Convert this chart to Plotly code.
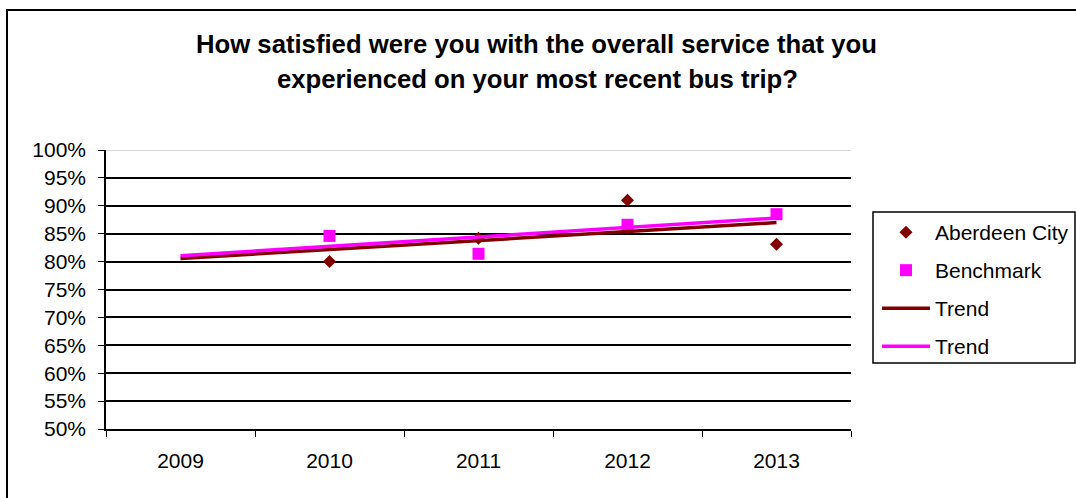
import numpy as np
import plotly.graph_objects as go

# Survey years and satisfaction scores (percent)
years = ["2009", "2010", "2011", "2012", "2013"]
aberdeen = [None, 80.0, 84.2, 91.0, 83.1]
benchmark = [None, 84.6, 81.4, 86.6, 88.5]

title_lines = [
    "How satisfied were you with the overall service that you",
    "experienced on your most recent bus trip?",
]

DARK_RED = "#800000"
MAGENTA = "#FF00FF"
FONT = "Liberation Sans, Arial, sans-serif"

W, H = 1076, 498
L, R, T, B = 106, 225, 150, 69
PW, PH = W - L - R, H - T - B


def px_x(p):
    return (p - L) / PW


def px_y(p):
    return (H - B - p) / PH


def linear_trend(values):
    """Least-squares line over the years that have data, evaluated on every year."""
    idx = np.arange(len(values))
    mask = np.array([v is not None for v in values])
    vals = np.array([v if v is not None else np.nan for v in values], dtype=float)
    slope, intercept = np.polyfit(idx[mask], vals[mask], 1)
    return list(slope * idx + intercept)


fig = go.Figure()

fig.add_trace(go.Scatter(
    x=years, y=aberdeen, mode="markers", name="Aberdeen City",
    legendgroup="a", marker=dict(symbol="diamond", size=10, color=DARK_RED),
))
fig.add_trace(go.Scatter(
    x=years, y=benchmark, mode="markers", name="Benchmark",
    legendgroup="b", marker=dict(symbol="square", size=12, color=MAGENTA),
))
fig.add_trace(go.Scatter(
    x=years, y=linear_trend(aberdeen), mode="lines", name="Trend",
    legendgroup="c", line=dict(color=DARK_RED, width=3.5),
))
fig.add_trace(go.Scatter(
    x=years, y=linear_trend(benchmark), mode="lines", name="Trend",
    legendgroup="d", line=dict(color=MAGENTA, width=3.5),
))

fig.update_xaxes(
    type="category", categoryorder="array", categoryarray=years,
    range=[-0.5, len(years) - 0.5],
    showgrid=False, showline=True, linecolor="black", linewidth=1.6,
    ticks="outside", tickson="boundaries", ticklen=6, tickcolor="black",
    tickwidth=1.3, ticklabelstandoff=12, automargin=False,
    tickfont=dict(family=FONT, size=21, color="black"),
    zeroline=False,
)
fig.update_yaxes(
    range=[50, 100], dtick=5, ticksuffix="%",
    showgrid=True, gridcolor="black", gridwidth=1.6,
    showline=True, linecolor="black", linewidth=1.6,
    ticks="outside", ticklen=6, tickcolor="black", tickwidth=1.3,
    ticklabelstandoff=8, automargin=False,
    tickfont=dict(family=FONT, size=21, color="black"),
    zeroline=False,
)

shapes = [
    # light top gridline at 100%
    dict(type="line", xref="paper", yref="y", x0=0, x1=1, y0=100, y1=100,
         line=dict(color="#C8C8C8", width=1.6), layer="above"),
    # outer chart frame
    dict(type="rect", xref="paper", yref="paper",
         x0=px_x(7), x1=px_x(W + 20), y0=px_y(H + 20), y1=px_y(10),
         line=dict(color="black", width=2), fillcolor="rgba(0,0,0,0)"),
    # legend box
    dict(type="rect", xref="paper", yref="paper",
         x0=px_x(873), x1=px_x(1075), y0=px_y(363), y1=px_y(212),
         line=dict(color="black", width=1.5), fillcolor="rgba(0,0,0,0)"),
]

annotations = [
    dict(text=f"<b>{title_lines[0]}</b>", xref="paper", yref="paper",
         x=px_x(536), y=px_y(44), xanchor="center", yanchor="middle",
         showarrow=False, font=dict(family=FONT, size=25.7, color="black")),
    dict(text=f"<b>{title_lines[1]}</b>", xref="paper", yref="paper",
         x=px_x(537), y=px_y(79), xanchor="center", yanchor="middle",
         showarrow=False, font=dict(family=FONT, size=25.7, color="black")),
]

fig.update_layout(
    width=W, height=H,
    margin=dict(l=L, r=R, t=T, b=B, pad=0, autoexpand=False),
    paper_bgcolor="white", plot_bgcolor="white",
    font=dict(family=FONT, color="black"),
    showlegend=True,
    legend=dict(
        x=px_x(877), y=px_y(212), xanchor="left", yanchor="top",
        borderwidth=0, bgcolor="rgba(0,0,0,0)",
        font=dict(family=FONT, size=21, color="black"),
        traceorder="grouped", tracegroupgap=7.7, itemwidth=48,
    ),
    shapes=shapes,
    annotations=annotations,
)

fig.write_html("out.html")
